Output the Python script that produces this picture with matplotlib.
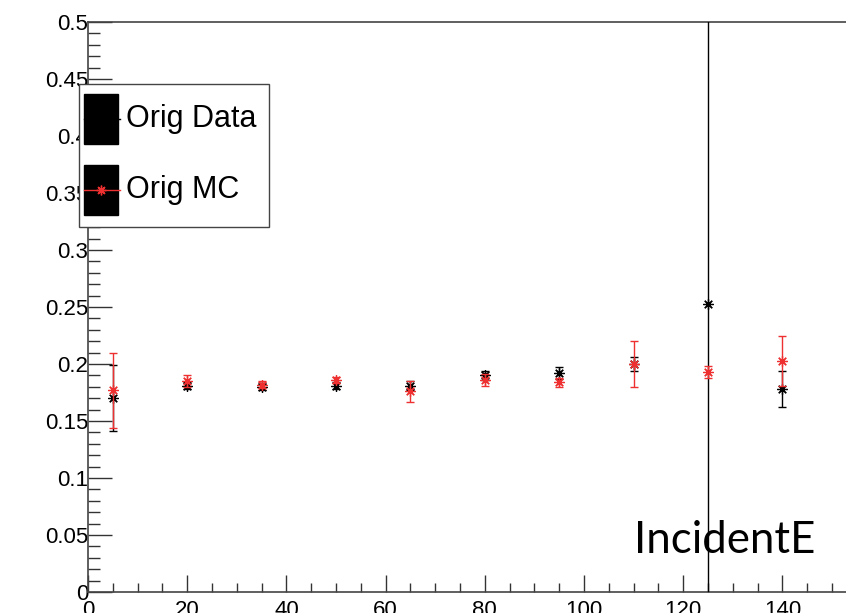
import matplotlib
matplotlib.use("Agg")
import matplotlib.pyplot as plt
from matplotlib.patches import Rectangle
from matplotlib.lines import Line2D
from matplotlib.ticker import MultipleLocator, FuncFormatter

plt.rcParams['font.family'] = ['Liberation Sans', 'DejaVu Sans']

energy = [5, 20, 35, 50, 65, 80, 95, 110, 125, 140]
data_y = [0.170, 0.181, 0.180, 0.181, 0.181, 0.190, 0.192, 0.200, 0.253, 0.178]
data_err = [0.029, 0.003, 0.003, 0.003, 0.004, 0.004, 0.005, 0.006, 0.80, 0.016]
mc_y = [0.177, 0.185, 0.182, 0.186, 0.176, 0.186, 0.184, 0.200, 0.193, 0.203]
mc_err = [0.033, 0.005, 0.003, 0.003, 0.009, 0.005, 0.004, 0.020, 0.005, 0.022]
legend_labels = ["Orig Data", "Orig MC"]
annotation = "IncidentE"

red = '#ee3030'
star = (8, 2, 0)

fig = plt.figure(figsize=(8.46, 6.13), dpi=100)
ax = fig.add_axes([88/846, 21/613, 1 - 88/846, 570/613])

ax.errorbar(energy, data_y, yerr=data_err, fmt='none', ecolor='black',
            elinewidth=1.0, capsize=3, capthick=1.0, zorder=3)
ax.plot(energy, data_y, linestyle='none', marker=star, markersize=7.5,
        markeredgecolor='black', markeredgewidth=0.9, zorder=4)
ax.errorbar(energy, mc_y, yerr=mc_err, fmt='none', ecolor=red,
            elinewidth=1.0, capsize=3, capthick=1.0, zorder=5)
ax.plot(energy, mc_y, linestyle='none', marker=star, markersize=7.5,
        markeredgecolor=red, markeredgewidth=0.9, zorder=6)

ax.set_xlim(0, (846 - 88) / 4.96)
ax.set_ylim(0, 0.5)

ax.xaxis.set_major_locator(MultipleLocator(20))
ax.xaxis.set_minor_locator(MultipleLocator(5))
ax.yaxis.set_major_locator(MultipleLocator(0.05))
ax.yaxis.set_minor_locator(MultipleLocator(0.01))
ax.yaxis.set_major_formatter(FuncFormatter(lambda v, p: ('%g' % round(v, 2))))
ax.xaxis.set_major_formatter(FuncFormatter(lambda v, p: ('%g' % v)))

ax.tick_params(axis='both', which='both', direction='in', width=1.0,
               labelsize=16, color='#333333')
ax.tick_params(axis='y', which='major', length=17, pad=0)
ax.tick_params(axis='y', which='minor', length=8.6)
ax.tick_params(axis='x', which='major', length=12, pad=6)
ax.tick_params(axis='x', which='minor', length=6.5)
ax.tick_params(top=False, right=False, which='both')
for s in ['left', 'bottom', 'top']:
    ax.spines[s].set_linewidth(1.2)
    ax.spines[s].set_color('#444444')
ax.spines['right'].set_visible(False)

# annotation
ax.text((815 - 88) / 758, 0.091, annotation, transform=ax.transAxes, ha='right', va='center',
        fontsize=31.5, family=['Lato', 'DejaVu Sans'], zorder=2)

# legend drawn in figure pixel coordinates
def fx(px):
    return px / 846

def fy(py):
    return 1 - py / 613

fig.patches.append(Rectangle((fx(79), fy(227)), fx(269) - fx(79), fy(84) - fy(227),
                             transform=fig.transFigure, facecolor='white',
                             edgecolor='#444444', linewidth=1.0, zorder=10))
for i, (lab, col) in enumerate(zip(legend_labels, ['black', red])):
    top = 94 + i * 71
    fig.patches.append(Rectangle((fx(84), fy(top + 50)), fx(118) - fx(84), fy(top) - fy(top + 50),
                                 transform=fig.transFigure, facecolor='black',
                                 edgecolor='black', zorder=11))
    yc = top + 25
    fig.lines.append(Line2D([fx(84), fx(120)], [fy(yc), fy(yc)], transform=fig.transFigure,
                            color=col, linewidth=1.0, zorder=12))
    fig.lines.append(Line2D([fx(101)], [fy(yc)], transform=fig.transFigure, linestyle='none',
                            marker=star, markersize=7, markeredgecolor=col,
                            markeredgewidth=1.0, zorder=12))
    fig.text(fx(126), fy(yc), lab, ha='left', va='center', fontsize=22, zorder=12)

fig.savefig('out.png', dpi=100)
